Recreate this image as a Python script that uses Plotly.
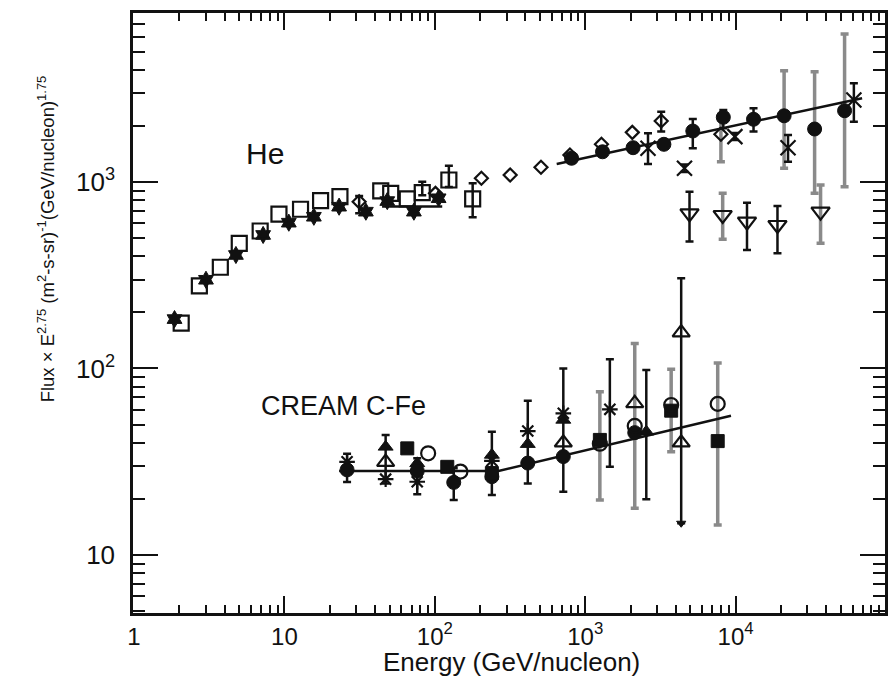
import plotly.graph_objects as go

# ---------------- He data ----------------
he_sq_x = [2.06, 2.72, 3.75, 5.01, 6.9, 9.2, 12.8, 17.4, 23.4, 43.7, 50.9, 65.6, 82.5, 124, 178.5]
he_sq_y = [175, 277, 349, 469, 546, 672, 714, 794, 834, 895, 869, 811, 877, 1025, 811]
he_sq_hi = [None]*12 + [1004, 1223, 984]
he_sq_lo = [None]*12 + [850, 940, 647]

he_star_x = [1.86, 3.01, 4.76, 7.22, 10.7, 15.7, 23.1, 34.8, 48.3, 72.6, 106]
he_star_y = [184, 299, 406, 520, 605, 651, 737, 693, 790, 693, 818]

he_dia_x = [31.4, 101, 204, 317, 508, 791, 1282, 2056, 3200, 7980]
he_dia_y = [783, 869, 1047, 1090, 1199, 1396, 1592, 1845, 2124, 1803]
he_dia_hi = [841, None, None, None, None, None, None, None, 2381, 2150]
he_dia_lo = [679, None, None, None, None, None, None, None, 1862, 1285]

he_cir_x = [811, 1303, 2080, 3335, 5190, 8280, 13150, 21000, 33500, 53000]
he_cir_y = [1340, 1452, 1527, 1592, 1876, 2223, 2168, 2264, 1923, 2411]
he_cir_hi = [None, None, None, None, 2178, 2432, 2484, 3953, 3900, 6220]
he_cir_lo = [None, None, None, None, 1517, 1941, 1862, 1184, 869, 944]

he_x_x = [2614, 4570, 9890, 22300, 61100]
he_x_y = [1517, 1184, 1751, 1527, 2754]
he_x_hi = [1824, 1240, 1830, 1786, 3382]
he_x_lo = [1249, 1130, 1680, 1285, 2104]

he_tri_x = [4935, 8200, 11900, 18970, 36700]
he_tri_y = [679, 665, 613, 588, 693]
he_tri_hi = [887, 869, 774, 743, 962]
he_tri_lo = [479, 493, 432, 415, 469]

he_fit_x = [646, 69300]
he_fit_y = [1249, 2813]
he_low_fit_x = [44.6, 112]
he_low_fit_y = [738, 738]

# ---------------- C-Fe data ----------------
cfe_fit_x = [23.1, 265, 9310]
cfe_fit_y = [28.2, 28.2, 55.8]

cfe_fc_x = [26.1, 76.4, 133.6, 239.5, 415, 715, 2134]
cfe_fc_y = [28.6, 28.2, 24.5, 26.3, 31.1, 33.7, 45.3]
cfe_fc_hi = [34.9, None, 29.2, None, None, None, None]
cfe_fc_lo = [24.6, None, 19.7, None, None, None, None]

cfe_fs_x = [65.6, 121, 239.5, 1251, 3727, 7600]
cfe_fs_y = [37.3, 29.7, 27.5, 41.4, 59.4, 40.8]
cfe_fs_hi = [None, None, None, 75.1, 99, 107]
cfe_fs_lo = [None, None, None, 19.7, 35.8, 14.5]

cfe_oc_x = [90.3, 148, 1251, 2134, 3727, 7600]
cfe_oc_y = [35.1, 28, 39.5, 49.2, 63.7, 64.6]
cfe_oc_hi = [None, None, None, 136, None, None]
cfe_oc_lo = [None, None, None, 17.8, None, None]

cfe_ot_x = [47.1, 715, 2134, 4345, 4345]
cfe_ot_y = [31.5, 40, 65, 155.6, 40]
cfe_ot_hi = [None, None, None, 305, None]
cfe_ot_lo = [None, None, None, 14.8, None]

cfe_as_x = [26.1, 47.1, 76.4, 239.5, 415, 715, 1458]
cfe_as_y = [31.6, 25.5, 24.7, 32, 46.2, 57.5, 60.4]
cfe_as_hi = [None, 44, 33, 45.8, 67.1, 100, 112]
cfe_as_lo = [None, 24.2, 21.2, 21, 24.2, 21.8, 29.7]

cfe_ft_x = [47.1, 76.4, 239.5, 415, 715, 2547]
cfe_ft_y = [38, 31, 34.4, 39.3, 53, 45.8]
cfe_ft_hi = [None, None, None, None, None, 98]
cfe_ft_lo = [None, None, None, None, None, 19.9]

cfe_arrow_x = [4345]
cfe_arrow_y = [14.8]

x_tickvals = [1, 10, 100, 1000, 10000]
x_ticktext = ["1", "10", "10<sup>2</sup>", "10<sup>3</sup>", "10<sup>4</sup>"]
y_tickvals = [10, 100, 1000]
y_ticktext = ["10", "10<sup>2</sup>", "10<sup>3</sup>"]

BLACK = "#111111"
GRAY = "#8a8a8a"

fig = go.Figure()


def bar_trace(x, y, hi, lo, color, thick, gray_idx=None, want_gray=False):
    xs, ys, plus, minus = [], [], [], []
    for i, (xv, yv, h, l) in enumerate(zip(x, y, hi, lo)):
        if h is None and l is None:
            continue
        isg = gray_idx is not None and i in gray_idx
        if gray_idx is not None and isg != want_gray:
            continue
        xs.append(xv)
        ys.append(yv)
        plus.append((h - yv) if h is not None else 0)
        minus.append((yv - l) if l is not None else 0)
    if not xs:
        return
    fig.add_trace(go.Scatter(
        x=xs, y=ys, mode="markers",
        marker=dict(size=1, color="rgba(0,0,0,0)"),
        error_y=dict(type="data", symmetric=False, array=plus, arrayminus=minus,
                     color=color, thickness=thick, width=4),
        hoverinfo="skip"))


# gray error bars first (behind)
bar_trace(he_cir_x, he_cir_y, he_cir_hi, he_cir_lo, GRAY, 3.5, gray_idx=[7, 8, 9], want_gray=True)
bar_trace(he_tri_x, he_tri_y, he_tri_hi, he_tri_lo, GRAY, 3.5, gray_idx=[1, 4], want_gray=True)
bar_trace(he_dia_x, he_dia_y, he_dia_hi, he_dia_lo, GRAY, 3.5, gray_idx=[9], want_gray=True)
bar_trace(cfe_fs_x, cfe_fs_y, cfe_fs_hi, cfe_fs_lo, GRAY, 3.5)
bar_trace(cfe_oc_x, cfe_oc_y, cfe_oc_hi, cfe_oc_lo, GRAY, 3.5)

# black error bars
bar_trace(he_cir_x, he_cir_y, he_cir_hi, he_cir_lo, BLACK, 2.5, gray_idx=[7, 8, 9], want_gray=False)
bar_trace(he_tri_x, he_tri_y, he_tri_hi, he_tri_lo, BLACK, 2.5, gray_idx=[1, 4], want_gray=False)
bar_trace(he_dia_x, he_dia_y, he_dia_hi, he_dia_lo, BLACK, 2.5, gray_idx=[9], want_gray=False)
bar_trace(he_sq_x, he_sq_y, he_sq_hi, he_sq_lo, BLACK, 2.5)
bar_trace(he_x_x, he_x_y, he_x_hi, he_x_lo, BLACK, 2.5)
bar_trace(cfe_fc_x, cfe_fc_y, cfe_fc_hi, cfe_fc_lo, BLACK, 2.5)
bar_trace(cfe_ot_x, cfe_ot_y, cfe_ot_hi, cfe_ot_lo, BLACK, 2.5)
bar_trace(cfe_as_x, cfe_as_y, cfe_as_hi, cfe_as_lo, BLACK, 2.5)
bar_trace(cfe_ft_x, cfe_ft_y, cfe_ft_hi, cfe_ft_lo, BLACK, 2.5)

# fit lines
for lx, ly in [(he_fit_x, he_fit_y), (he_low_fit_x, he_low_fit_y), (cfe_fit_x, cfe_fit_y)]:
    fig.add_trace(go.Scatter(x=lx, y=ly, mode="lines",
                             line=dict(color=BLACK, width=2.5), hoverinfo="skip"))


def markers(x, y, symbol, size, lw=2, color=BLACK):
    fig.add_trace(go.Scatter(
        x=x, y=y, mode="markers",
        marker=dict(symbol=symbol, size=size, color=color,
                    line=dict(color=BLACK, width=lw))))


markers(he_star_x, he_star_y, "hexagram", 13, lw=1)
markers(he_sq_x, he_sq_y, "square-open", 15, lw=2.2)
markers(he_dia_x, he_dia_y, "diamond-open", 10, lw=2.2)
markers(he_cir_x, he_cir_y, "circle", 14, lw=1)
markers(he_x_x, he_x_y, "x-thin-open", 15, lw=2.2)
markers(he_tri_x, he_tri_y, "triangle-down-open", 16, lw=2.2)

markers(cfe_as_x, cfe_as_y, "asterisk-open", 13, lw=2.2)
markers(cfe_ft_x, cfe_ft_y, "triangle-up", 13, lw=1)
markers(cfe_fc_x, cfe_fc_y, "circle", 14, lw=1)
markers(cfe_fs_x, cfe_fs_y, "square", 13, lw=1)
markers(cfe_oc_x, cfe_oc_y, "circle-open", 14, lw=2.2)
markers(cfe_ot_x, cfe_ot_y, "triangle-up-open", 15, lw=2.2)
markers(cfe_arrow_x, cfe_arrow_y, "triangle-down", 8, lw=1)

FONT = "Liberation Sans, Arial, sans-serif"
minor_x = [m * 10 ** e for e in range(0, 5) for m in range(2, 10)]
minor_y = [m * 10 ** e for e in range(0, 4) for m in range(2, 10)]

fig.update_layout(
    width=888, height=677,
    margin=dict(l=133, r=0, t=13, b=64),
    paper_bgcolor="white", plot_bgcolor="white",
    showlegend=False,
    font=dict(family=FONT, color=BLACK),
    xaxis=dict(type="log", range=[-0.0066, 4.993],
               showline=True, linecolor=BLACK, linewidth=2.5, mirror="ticks",
               ticks="inside", ticklen=17, tickwidth=2, tickcolor=BLACK,
               tickmode="array", tickvals=x_tickvals, ticktext=x_ticktext,
               tickfont=dict(size=24, family=FONT, color=BLACK),
               ticklabelstandoff=0,
               showgrid=False, zeroline=False,
               minor=dict(ticks="inside", ticklen=8, tickwidth=1.5, tickcolor=BLACK,
                          tickvals=minor_x, showgrid=False)),
    yaxis=dict(type="log", range=[0.689, 3.906],
               showline=True, linecolor=BLACK, linewidth=2.5, mirror="ticks",
               ticks="inside", ticklen=25, tickwidth=2, tickcolor=BLACK,
               tickmode="array", tickvals=y_tickvals, ticktext=y_ticktext,
               tickfont=dict(size=26, family=FONT, color=BLACK),
               ticklabelstandoff=10,
               showgrid=False, zeroline=False,
               minor=dict(ticks="inside", ticklen=12, tickwidth=1.5, tickcolor=BLACK,
                          tickvals=minor_y, showgrid=False)),
)

W, H, L, T = 755.0, 600.0, 133.0, 13.0


def px(xp, yp):
    return (xp - L) / W, 1 - (yp - T) / H


ann = [
    ("He", 266, 153, 30, 0),
    ("CREAM C-Fe", 344.5, 405.5, 27, 0),
    ("Energy (GeV/nucleon)", 513, 662, 26, 0),
    ("Flux × E<sup>2.75</sup> (m<sup>2</sup>-s-sr)<sup>-1</sup>(GeV/nucleon)<sup>1.75</sup>", 46, 239, 18.5, -90),
]
for text, xp, yp, size, ang in ann:
    ax, ay = px(xp, yp)
    fig.add_annotation(text=text, x=ax, y=ay, xref="paper", yref="paper",
                       xanchor="center", yanchor="middle", showarrow=False,
                       textangle=ang, font=dict(size=size, family=FONT, color=BLACK))

fig.write_html("out.html")
